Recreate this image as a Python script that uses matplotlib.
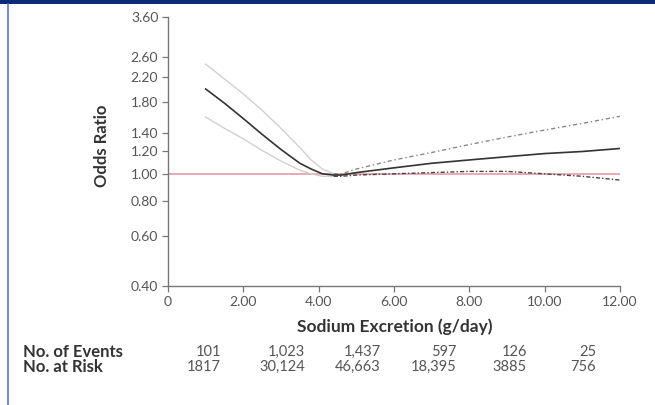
import matplotlib
matplotlib.use("Agg")
import matplotlib.pyplot as plt
from matplotlib.ticker import FixedLocator, NullLocator

plt.rcParams['font.family'] = ['Lato', 'DejaVu Sans']

# ---- data ----
sodium = [1.0, 1.5, 2.0, 2.5, 3.0, 3.5, 3.8, 4.1, 4.4, 4.6, 5.0, 6.0, 7.0, 8.0, 9.0, 10.0, 11.0, 12.0]
odds_ratio = [2.00, 1.78, 1.57, 1.38, 1.22, 1.09, 1.04, 1.00, 0.99, 0.99, 1.01, 1.05, 1.09, 1.12, 1.15, 1.18, 1.20, 1.23]
upper_ci = [2.45, 2.17, 1.92, 1.68, 1.45, 1.24, 1.12, 1.04, 1.00, 1.00, 1.04, 1.12, 1.19, 1.27, 1.35, 1.43, 1.51, 1.60]
lower_ci = [1.59, 1.45, 1.33, 1.21, 1.11, 1.03, 1.00, 0.98, 0.98, 0.98, 0.99, 1.00, 1.01, 1.02, 1.02, 1.00, 0.98, 0.95]
split_x = 4.4

x_ticks = [0, 2, 4, 6, 8, 10, 12]
x_tick_labels = ["0", "2.00", "4.00", "6.00", "8.00", "10.00", "12.00"]
y_ticks = [0.40, 0.60, 0.80, 1.00, 1.20, 1.40, 1.80, 2.20, 2.60, 3.60]
y_tick_labels = ["0.40", "0.60", "0.80", "1.00", "1.20", "1.40", "1.80", "2.20", "2.60", "3.60"]

row_labels = ["No. of Events", "No. at Risk"]
events = ["101", "1,023", "1,437", "597", "126", "25"]
at_risk = ["1817", "30,124", "46,663", "18,395", "3885", "756"]

# ---- figure ----
W, H = 655, 405
fig = plt.figure(figsize=(W / 100, H / 100), dpi=100)
ax = fig.add_axes([168 / W, 1 - 286 / H, (620 - 168) / W, (286 - 17) / H])

ax.set_yscale('log')
ax.set_xlim(0, 12)
ax.set_ylim(0.40, 3.60)

# reference line
ax.plot([0, 12], [1.0, 1.0], color='#eaa3ac', lw=1.3, zorder=1)

# CI left parts (light) and right parts (dash)
left_idx = [i for i, v in enumerate(sodium) if v <= split_x]
right_idx = [i for i, v in enumerate(sodium) if v >= split_x]
ax.plot([sodium[i] for i in left_idx], [upper_ci[i] for i in left_idx], color='#d0d0d0', lw=1.0, zorder=2)
ax.plot([sodium[i] for i in left_idx], [lower_ci[i] for i in left_idx], color='#d0d0d0', lw=1.0, zorder=2)
ax.plot([sodium[i] for i in right_idx], [upper_ci[i] for i in right_idx], color='#888888', lw=1.0,
        dashes=(3, 2, 1, 2), zorder=2)
ax.plot([sodium[i] for i in right_idx], [lower_ci[i] for i in right_idx], color='#444444', lw=1.0,
        dashes=(3, 1.5, 1, 1.5), zorder=2)
ax.plot(sodium, odds_ratio, color='#333333', lw=1.2, zorder=3)

# axes styling
for s in ['top', 'right']:
    ax.spines[s].set_visible(False)
for s in ['left', 'bottom']:
    ax.spines[s].set_color('#777777')
    ax.spines[s].set_linewidth(1.0)

ax.yaxis.set_major_locator(FixedLocator(y_ticks))
ax.yaxis.set_minor_locator(NullLocator())
ax.set_yticklabels(y_tick_labels)
ax.set_xticks(x_ticks)
ax.set_xticklabels(x_tick_labels)
ax.tick_params(axis='both', direction='out', length=4, width=0.9, color='#777777',
               labelsize=10, labelcolor='#555555', pad=3)

ax.set_ylabel("Odds Ratio", fontsize=12, fontweight='bold', color='#333333')
ax.yaxis.set_label_coords(-0.128, 0.52)
ax.set_xlabel("Sodium Excretion (g/day)", fontsize=12.5, fontweight='bold', color='#333333')
ax.xaxis.set_label_coords(0.502, -0.122)

# table below
row_y = [352, 367]
col_right_px = [221, 305, 381, 457, 527, 596]
for ry, lab, vals in zip(row_y, row_labels, [events, at_risk]):
    fig.text(23 / W, 1 - ry / H, lab, fontsize=12, fontweight='bold', color='#333333',
             ha='left', va='center')
    for cx, v in zip(col_right_px, vals):
        fig.text(cx / W, 1 - ry / H, v, fontsize=10.5, color='#555555', ha='right', va='center')

# decorative frame: top bar and left vertical line
fig.add_artist(plt.Rectangle((0, 1 - 4 / H), 1, 4 / H, transform=fig.transFigure,
                             color='#0b2a78', lw=0))
fig.add_artist(plt.Line2D([8 / W, 8 / W], [0, 1 - 4 / H], transform=fig.transFigure,
                          color='#5577c4', lw=1.2))

fig.savefig("out.png", dpi=100)
